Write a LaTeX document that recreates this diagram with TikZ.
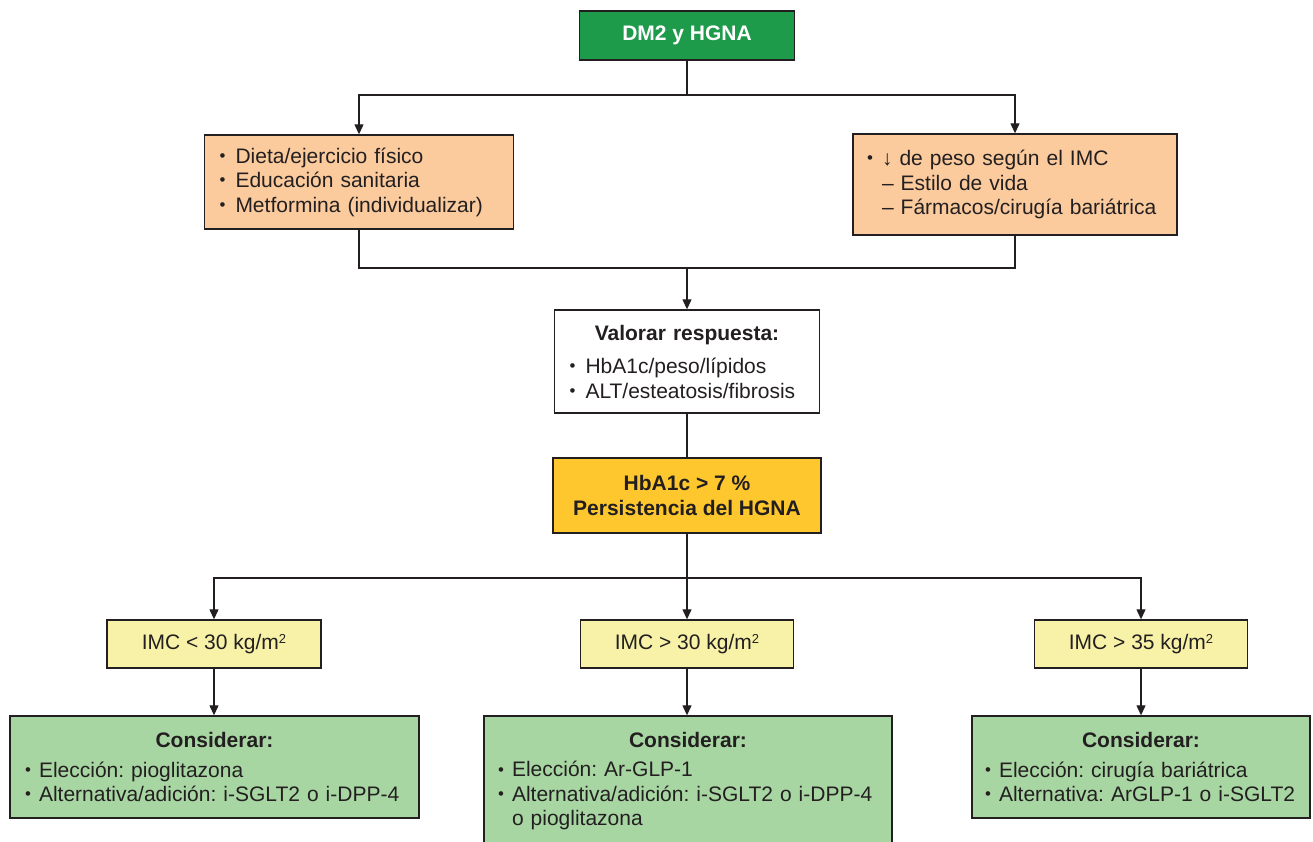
\documentclass[tikz,border=0pt]{standalone}
\usepackage{fontspec}
\setmainfont{Liberation Sans}
\usepackage{graphicx}
\usetikzlibrary{arrows.meta}
\definecolor{ink}{RGB}{35,31,32}
\definecolor{dmgreen}{RGB}{30,154,75}
\definecolor{peach}{RGB}{251,203,158}
\definecolor{gold}{RGB}{254,199,46}
\definecolor{paleyellow}{RGB}{248,242,168}
\definecolor{lightgreen}{RGB}{168,214,163}
\newcommand{\bul}[1][14pt]{\makebox[#1][l]{\raisebox{0.08em}{\scalebox{0.8}{•}}}}
\newcommand{\sqm}{\raisebox{5.5pt}{\fontsize{13}{13}\selectfont 2}}
\begin{document}
\frenchspacing
\begin{tikzpicture}[x=1pt,y=-1pt,
  every node/.style={font=\fontsize{21}{24.5}\selectfont\frenchspacing, text=ink},
  box/.style={draw=ink, line width=1.4pt, rectangle, inner ysep=0pt},
  conn/.style={draw=ink, line width=1.2pt},
  arr/.style={conn, -{Triangle[length=10pt,width=9pt]}}]
\useasboundingbox (0,0) rectangle (1313,841);
\clip (0,0) rectangle (1313,841);

% top
\node[box, fill=dmgreen, minimum width=215pt, minimum height=49pt,
      font=\fontsize{21}{24.5}\selectfont\bfseries, text=white] (dm) at (687,35.5) {DM2 y HGNA};

\node[box, fill=peach, text width=279pt, inner xsep=15pt, minimum height=94pt, align=left] (lo) at (359,182)
  {\bul[16pt]Dieta/ejercicio físico\\ \bul[16pt]Educación sanitaria\\ \bul[16pt]Metformina (individualizar)};

\node[box, fill=peach, text width=296pt, inner xsep=14pt, minimum height=101pt, align=left] (ro) at (1015,184.5)
  {\bul[15pt]↓ de peso según el IMC\\ \hspace*{15pt}– Estilo de vida\\ \hspace*{15pt}– Fármacos/cirugía bariátrica};

\node[box, fill=white, text width=235pt, inner xsep=15pt, minimum height=103pt, align=left] (val) at (687,361.5)
  {\makebox[\linewidth][c]{\bfseries Valorar respuesta:}\\[9pt]
   \bul[16pt]HbA1c/peso/lípidos\\ \bul[16pt]ALT/esteatosis/fibrosis};

\node[box, fill=gold, minimum width=268pt, minimum height=75pt, align=center,
      font=\fontsize{21}{25}\selectfont\bfseries] (hb) at (687,495.5)
  {HbA1c > 7 \%\\Persistencia del HGNA};

% IMC
\node[box, fill=paleyellow, minimum width=214pt, minimum height=48pt] (imc1) at (214,644) {IMC < 30 kg/m\sqm};
\node[box, fill=paleyellow, minimum width=213pt, minimum height=48pt] (imc2) at (687,644) {IMC > 30 kg/m\sqm};
\node[box, fill=paleyellow, minimum width=213pt, minimum height=48pt] (imc3) at (1141,644) {IMC > 35 kg/m\sqm};

% bottom
\node[box, fill=lightgreen, text width=379pt, inner xsep=15pt, minimum height=102pt, align=left] (c1) at (214.5,767)
  {\makebox[\linewidth][c]{\bfseries Considerar:}\\[5pt]
   \bul[14pt]Elección: pioglitazona\\ \bul[14pt]Alternativa/adición: i-SGLT2 o \mbox{i-DPP-4}};

\node[box, fill=lightgreen, text width=380pt, inner xsep=14pt, minimum height=130pt, align=left] (c2) at (688,781)
  {\makebox[\linewidth][c]{\bfseries Considerar:}\\[5pt]
   \bul[14pt]Elección: Ar-GLP-1\\ \bul[14pt]Alternativa/adición: i-SGLT2 o \mbox{i-DPP-4}\\ \hspace*{14pt}o pioglitazona};

\node[box, fill=lightgreen, text width=312pt, inner xsep=13pt, minimum height=102pt, align=left] (c3) at (1141,767)
  {\makebox[\linewidth][c]{\bfseries Considerar:}\\[5pt]
   \bul[14pt]Elección: cirugía bariátrica\\ \bul[14pt]\mbox{Alternativa: ArGLP-1 o i-SGLT2}};

% connectors
\coordinate (j1) at (687,95);
\draw[conn] (dm.south) -- (j1);
\draw[arr] (j1) -| (lo.north);
\draw[arr] (j1) -| (ro.north);
\coordinate (j2) at (687,268);
\draw[conn] (lo.south) |- (j2);
\draw[conn] (ro.south) |- (j2);
\draw[arr] (j2) -- (val.north);
\draw[conn] (val.south) -- (hb.north);
\coordinate (j3) at (687,578);
\draw[conn] (hb.south) -- (j3);
\draw[arr] (j3) -| (imc1.north);
\draw[arr] (j3) -| (imc2.north);
\draw[arr] (j3) -| (imc3.north);
\draw[arr] (imc1.south) -- (imc1.south |- c1.north);
\draw[arr] (imc2.south) -- (imc2.south |- c2.north);
\draw[arr] (imc3.south) -- (imc3.south |- c3.north);
\end{tikzpicture}
\end{document}
